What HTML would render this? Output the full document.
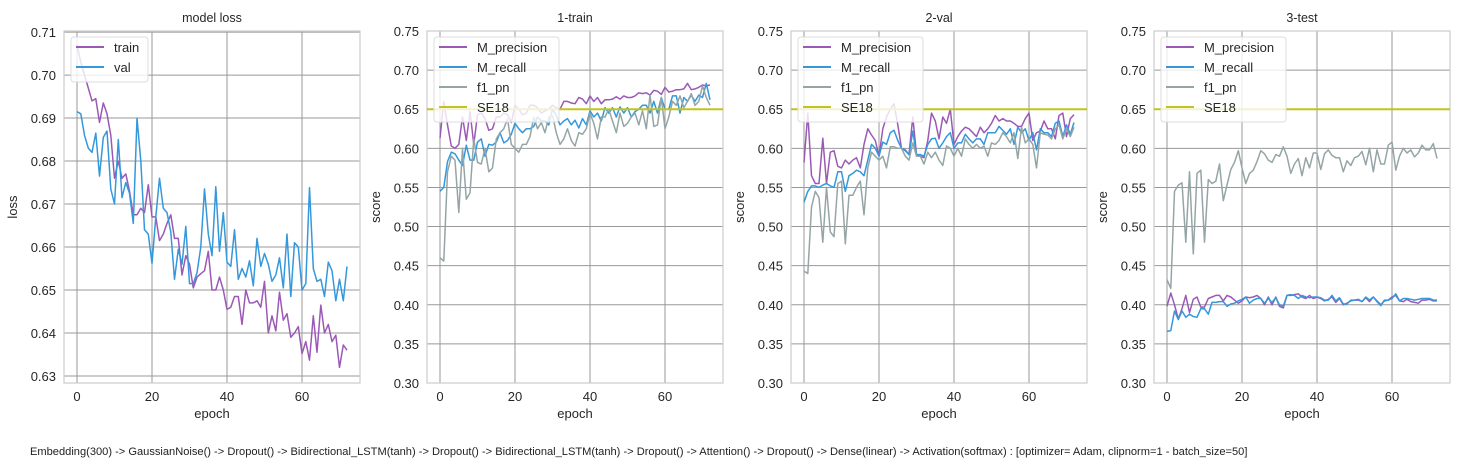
<!DOCTYPE html>
<html><head><meta charset="utf-8"><style>
html,body{margin:0;padding:0;background:#fff;}
svg{display:block;font-family:"Liberation Sans",Arial,sans-serif;}
</style></head><body>
<svg id="fig" width="1467" height="466" viewBox="0 0 1467 466" xmlns="http://www.w3.org/2000/svg">
<text x="30" y="455" font-size="11.1" fill="#222">Embedding(300) -&gt; GaussianNoise() -&gt; Dropout() -&gt; Bidirectional_LSTM(tanh) -&gt; Dropout() -&gt; Bidirectional_LSTM(tanh) -&gt; Dropout() -&gt; Attention() -&gt; Dropout() -&gt; Dense(linear) -&gt; Activation(softmax) : [optimizer= Adam, clipnorm=1 - batch_size=50]</text>
</svg>
<script>
const lossTrain=[.707,.703,.700,.697,.694,.6945,.689,.6935,.691,.686,.676,.680,.676,.677,.673,.6675,.6675,.669,.668,.6745,.667,.667,.6615,.663,.6655,.6675,.662,.662,.6535,.658,.656,.6505,.653,.6538,.6545,.659,.650,.650,.653,.650,.6455,.646,.6485,.6485,.642,.650,.647,.647,.6475,.646,.652,.640,.644,.6405,.6495,.643,.6445,.639,.640,.6415,.6352,.638,.6337,.644,.6355,.6465,.640,.642,.638,.6395,.632,.6372,.636];
const lossVal=[.6915,.691,.686,.683,.682,.6865,.6765,.6855,.687,.6735,.670,.685,.6715,.675,.6725,.6655,.690,.680,.664,.663,.6562,.667,.676,.669,.668,.6635,.6525,.6595,.656,.6648,.6515,.6515,.654,.660,.6735,.663,.658,.674,.659,.668,.6565,.6555,.664,.6525,.655,.653,.6568,.651,.662,.6555,.6585,.656,.652,.6535,.6575,.6505,.663,.6485,.661,.660,.650,.6515,.6738,.655,.652,.6525,.6485,.6565,.6545,.6475,.6525,.6475,.6555];
const prec2=[.613,.660,.630,.603,.600,.605,.640,.610,.647,.605,.643,.645,.638,.623,.625,.640,.640,.645,.643,.633,.655,.650,.643,.645,.655,.655,.652,.645,.648,.650,.655,.652,.650,.660,.660,.658,.657,.665,.663,.657,.667,.660,.665,.657,.662,.662,.663,.666,.663,.667,.665,.665,.667,.671,.670,.671,.668,.674,.673,.669,.678,.672,.673,.675,.675,.676,.683,.675,.676,.678,.681,.680,.681];
const rec2=[.545,.550,.583,.595,.593,.585,.578,.604,.585,.585,.608,.612,.590,.605,.604,.608,.620,.607,.610,.618,.632,.625,.620,.625,.625,.628,.640,.635,.635,.630,.650,.642,.630,.635,.638,.630,.636,.626,.638,.630,.648,.640,.645,.635,.652,.645,.652,.640,.653,.645,.652,.640,.647,.650,.655,.655,.645,.660,.645,.665,.650,.650,.667,.667,.645,.665,.660,.668,.660,.668,.665,.683,.662];
const f1_2=[.460,.456,.570,.590,.585,.518,.600,.535,.543,.612,.582,.580,.600,.570,.575,.612,.620,.625,.638,.605,.600,.595,.605,.605,.615,.640,.625,.633,.620,.640,.642,.620,.605,.612,.625,.610,.603,.620,.618,.625,.645,.632,.612,.640,.640,.650,.635,.620,.645,.628,.632,.640,.645,.630,.648,.625,.668,.628,.630,.665,.625,.640,.660,.655,.667,.652,.660,.670,.655,.660,.680,.665,.655];
const prec3=[.582,.645,.565,.555,.555,.613,.555,.595,.597,.577,.575,.585,.580,.585,.588,.575,.605,.625,.617,.610,.590,.625,.640,.650,.657,.630,.600,.598,.592,.640,.592,.590,.588,.610,.645,.635,.612,.640,.632,.650,.605,.615,.622,.627,.625,.620,.615,.627,.620,.625,.632,.642,.635,.638,.635,.635,.632,.628,.628,.638,.645,.610,.620,.622,.635,.625,.625,.612,.642,.645,.615,.638,.643];
const rec3=[.531,.545,.552,.552,.550,.553,.555,.552,.550,.570,.570,.545,.565,.568,.572,.570,.565,.585,.605,.600,.590,.608,.605,.620,.623,.610,.600,.597,.592,.622,.592,.592,.590,.605,.612,.613,.600,.607,.615,.620,.600,.607,.607,.618,.612,.607,.612,.612,.605,.620,.620,.620,.628,.623,.618,.625,.605,.627,.620,.625,.610,.620,.598,.625,.620,.620,.615,.632,.635,.615,.630,.618,.633];
const f1_3=[.443,.440,.525,.545,.537,.480,.550,.493,.487,.555,.558,.478,.540,.540,.550,.558,.515,.575,.595,.590,.585,.590,.575,.602,.602,.600,.600,.590,.585,.607,.590,.590,.580,.595,.588,.595,.585,.578,.603,.600,.590,.600,.590,.612,.605,.600,.605,.600,.603,.590,.607,.605,.610,.620,.615,.607,.620,.587,.627,.607,.612,.605,.575,.620,.618,.617,.612,.625,.630,.612,.625,.615,.627];
const prec4=[.398,.415,.400,.382,.395,.412,.390,.407,.410,.397,.397,.408,.410,.412,.412,.405,.412,.410,.406,.402,.405,.410,.409,.410,.412,.408,.400,.410,.400,.410,.398,.396,.412,.412,.413,.414,.410,.408,.412,.408,.410,.408,.405,.407,.410,.403,.408,.400,.402,.405,.406,.406,.404,.409,.404,.410,.405,.400,.405,.406,.410,.412,.405,.404,.407,.404,.403,.402,.406,.406,.407,.405,.405];
const rec4=[.366,.367,.392,.381,.392,.384,.388,.385,.384,.395,.395,.388,.403,.403,.404,.404,.398,.401,.402,.405,.407,.410,.402,.406,.408,.408,.402,.408,.403,.409,.400,.398,.412,.413,.412,.408,.412,.410,.409,.410,.410,.409,.406,.406,.412,.405,.409,.401,.401,.406,.406,.407,.404,.410,.406,.410,.404,.399,.406,.406,.408,.414,.405,.408,.408,.407,.406,.407,.408,.408,.408,.406,.406];
const f1_4=[.432,.421,.545,.553,.556,.480,.570,.465,.568,.572,.480,.560,.555,.558,.580,.533,.553,.573,.582,.597,.575,.555,.568,.572,.583,.597,.593,.585,.582,.592,.590,.602,.590,.568,.580,.587,.565,.588,.575,.594,.594,.573,.593,.598,.591,.588,.588,.570,.584,.578,.588,.590,.596,.579,.600,.570,.598,.580,.580,.604,.608,.572,.590,.600,.594,.598,.589,.594,.604,.598,.598,.606,.587];
const se18=0.65;
const xTicks=[0,20,40,60];
const lossTicks=[0.63,0.64,0.65,0.66,0.67,0.68,0.69,0.70,0.71];
const scoreTicks=[0.30,0.35,0.40,0.45,0.50,0.55,0.60,0.65,0.70,0.75];

const NS="http://www.w3.org/2000/svg";
const svg=document.getElementById('fig');
function mk(tag,attrs,parent){const e=document.createElementNS(NS,tag);for(const k in attrs)e.setAttribute(k,attrs[k]);(parent||svg).appendChild(e);return e;}
const C={p:'#9b59b6',r:'#3498db',f:'#95a5a6',s:'#c2c31e'};

function panel(o){
  const g=mk('g',{});
  
  
  const L=o.left,R=o.left+296,T=31,B=383;
  const x=e=>L+13+e*3.75;
  const y=v=>B-(v-o.ymin)/(o.ymax-o.ymin)*(B-T);
  xTicks.forEach(t=>{
    const l=mk('line',{x1:x(t),x2:x(t),y1:T,y2:B,stroke:'#999999','stroke-width':1},g);
    
    
    const tx=mk('text',{x:x(t),y:B+18,'font-size':13,'text-anchor':'middle',fill:'#262626'},g);
    tx.textContent=t;
    
    
  });
  o.ticks.forEach(t=>{
    const yy=y(t);
    if(yy>B+1||yy<T-1)return;
    const l=mk('line',{x1:L,x2:R,y1:yy,y2:yy,stroke:'#999999','stroke-width':1},g);
    
    
    const tx=mk('text',{x:L-8,y:yy+5,'font-size':13,'text-anchor':'end',fill:'#262626'},g);
    tx.textContent=t.toFixed(2);
    
    
  });
  const fr=mk('rect',{x:L,y:T,width:296,height:B-T,fill:'none',stroke:'#cccccc','stroke-width':1.2},g);
  
  
  const ti=mk('text',{x:L+148,y:22,'font-size':12.5,'text-anchor':'middle',fill:'#262626'},g);
  ti.textContent=o.title;
  
  
  const xl=mk('text',{x:L+148,y:418,'font-size':13,'text-anchor':'middle',fill:'#262626'},g);
  xl.textContent='epoch';
  
  
  const yx=L-47, yc=(T+B)/2;
  const yl=mk('text',{x:yx,y:yc,'font-size':13,'text-anchor':'middle',fill:'#262626',transform:`rotate(-90 ${yx} ${yc})`},g);
  yl.textContent=o.ylabel;
  
  
  o.series.forEach(s=>{
    const d=s.data.map((v,i)=>(i?'L':'M')+x(i).toFixed(1)+' '+y(v).toFixed(1)).join(' ');
    const p=mk('path',{d:d,fill:'none',stroke:s.color,'stroke-width':1.5,'stroke-linejoin':'round'},g);
    
    
  });
  if(o.hline!==undefined){
    const h=mk('line',{x1:L,x2:R,y1:y(o.hline),y2:y(o.hline),stroke:C.s,'stroke-width':2},g);
    
    
  }
  const items=o.legend, lw=o.legW, lh=items.length*20+5;
  const lg=mk('g',{},g);
  
  
  mk('rect',{x:L+7,y:T+6,width:lw,height:lh,rx:3,fill:'#ffffff','fill-opacity':0.8,stroke:'#dddddd'},lg);
  items.forEach((it,i)=>{
    const yy=T+16+i*20;
    const ln=mk('line',{x1:L+12,x2:L+40,y1:yy,y2:yy,stroke:it[1],'stroke-width':2},lg);
    
    
    const tx=mk('text',{x:L+50,y:yy+5,'font-size':13,fill:'#262626'},lg);
    tx.textContent=it[0];
    
    
  });
}
const leg3=[['M_precision',C.p],['M_recall',C.r],['f1_pn',C.f],['SE18',C.s]];
panel({name:'model-loss-chart',title:'model loss',ylabel:'loss',left:64,ymin:0.62837,ymax:0.71025,ticks:lossTicks,
  series:[{name:'train',data:lossTrain,color:C.p},{name:'val',data:lossVal,color:C.r}],
  legend:[['train',C.p],['val',C.r]],legW:77});
panel({name:'train-scores-chart',title:'1-train',ylabel:'score',left:427,ymin:0.30,ymax:0.75,ticks:scoreTicks,hline:se18,
  series:[{name:'m-precision',data:prec2,color:C.p},{name:'m-recall',data:rec2,color:C.r},{name:'f1-pn',data:f1_2,color:C.f}],
  legend:leg3,legW:125});
panel({name:'val-scores-chart',title:'2-val',ylabel:'score',left:791,ymin:0.30,ymax:0.75,ticks:scoreTicks,hline:se18,
  series:[{name:'m-precision',data:prec3,color:C.p},{name:'m-recall',data:rec3,color:C.r},{name:'f1-pn',data:f1_3,color:C.f}],
  legend:leg3,legW:125});
panel({name:'test-scores-chart',title:'3-test',ylabel:'score',left:1154,ymin:0.30,ymax:0.75,ticks:scoreTicks,hline:se18,
  series:[{name:'m-precision',data:prec4,color:C.p},{name:'m-recall',data:rec4,color:C.r},{name:'f1-pn',data:f1_4,color:C.f}],
  legend:leg3,legW:125});
</script>
</body></html>
